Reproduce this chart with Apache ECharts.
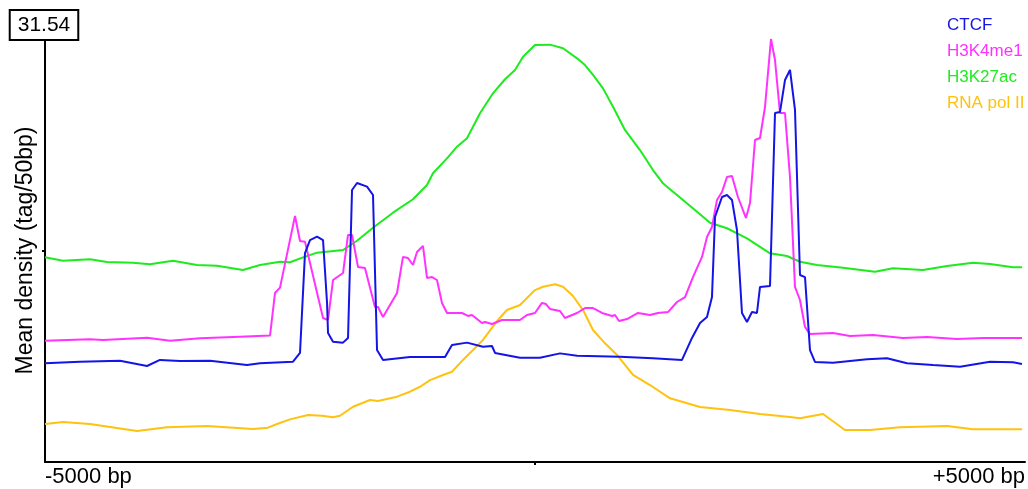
<!DOCTYPE html>
<html>
<head>
<meta charset="utf-8">
<title>Mean density</title>
<script src="https://cdn.jsdelivr.net/npm/echarts@6/dist/echarts.min.js"></script>
<style>
  html, body { margin: 0; padding: 0; background: #fff; }
  #chart { width: 1028px; height: 489px; }
</style>
</head>
<body>
<div id="chart"></div>
<script>
  // position relative to center (bp), mean density (tag/50bp)
  var yMax = 31.54;
  var xTicks = [-5000, 0, 5000];
  var seriesNames = ['CTCF', 'H3K4me1', 'H3K27ac', 'RNA pol II'];
  var seriesColors = ['#1414e6', '#ff33ff', '#1eeb1e', '#ffc20e'];

  var ctcf = [
    [-5000, 7.36], [-4643, 7.48], [-4235, 7.55], [-3959, 7.16], [-3827, 7.61], [-3622, 7.53],
    [-3316, 7.55], [-2939, 7.23], [-2806, 7.36], [-2469, 7.48], [-2398, 8.13], [-2347, 15.58],
    [-2296, 16.55], [-2224, 16.80], [-2163, 16.55], [-2122, 11.86], [-2112, 9.62], [-2061, 8.97],
    [-1959, 8.90], [-1908, 9.25], [-1867, 20.28], [-1816, 20.80], [-1714, 20.53], [-1653, 19.91],
    [-1612, 8.35], [-1551, 7.61], [-1276, 7.83], [-918, 7.83], [-847, 8.72], [-694, 8.90],
    [-531, 8.60], [-439, 8.65], [-408, 8.13], [-153, 7.78], [51, 7.78], [255, 8.10],
    [429, 7.93], [867, 7.85], [1204, 7.73], [1500, 7.61], [1602, 9.25], [1684, 10.36],
    [1755, 10.81], [1806, 12.30], [1837, 18.27], [1908, 19.76], [1959, 19.91], [2010, 19.54],
    [2061, 17.30], [2112, 11.11], [2163, 10.44], [2214, 11.18], [2265, 11.11], [2296, 13.05],
    [2398, 13.12], [2449, 26.02], [2500, 26.10], [2551, 28.48], [2602, 29.23], [2653, 26.25],
    [2704, 13.94], [2755, 13.79], [2806, 8.35], [2857, 7.46], [3041, 7.40], [3388, 7.66],
    [3592, 7.73], [3796, 7.36], [4061, 7.23], [4337, 7.11], [4643, 7.48], [4878, 7.43], [4969, 7.31]
  ];

  var h3k4me1 = [
    [-5000, 9.04], [-4541, 9.15], [-4408, 9.10], [-3959, 9.27], [-3724, 9.04], [-3418, 9.22],
    [-3010, 9.34], [-2704, 9.43], [-2653, 12.60], [-2602, 13.00], [-2449, 18.34], [-2398, 16.48],
    [-2347, 16.43], [-2163, 10.74], [-2112, 10.59], [-2061, 13.57], [-1959, 14.09], [-1908, 16.93],
    [-1867, 16.93], [-1806, 14.54], [-1735, 14.47], [-1633, 11.56], [-1602, 11.56], [-1551, 10.81],
    [-1408, 12.60], [-1347, 15.29], [-1296, 15.21], [-1245, 14.69], [-1204, 15.66], [-1143, 16.11],
    [-1102, 13.72], [-1051, 13.79], [-1000, 13.57], [-949, 11.86], [-898, 11.11], [-745, 11.11],
    [-684, 10.89], [-643, 10.96], [-541, 10.36], [-510, 10.44], [-439, 10.29], [-337, 10.59],
    [-153, 10.59], [-82, 10.96], [0, 11.11], [71, 11.86], [112, 11.78], [153, 11.41],
    [255, 11.26], [306, 10.74], [429, 11.11], [510, 11.48], [592, 11.48], [684, 11.11],
    [786, 10.89], [816, 10.96], [857, 10.51], [939, 10.66], [1051, 11.11], [1173, 10.96],
    [1255, 11.11], [1357, 11.18], [1449, 11.93], [1531, 12.30], [1612, 13.79], [1704, 15.29],
    [1755, 16.78], [1806, 17.52], [1857, 19.54], [1908, 20.13], [1959, 21.25], [2010, 21.33],
    [2071, 19.76], [2153, 18.19], [2194, 19.31], [2245, 24.01], [2296, 24.16], [2347, 26.47],
    [2408, 31.54], [2449, 29.97], [2500, 26.02], [2551, 26.02], [2602, 21.25], [2653, 13.05],
    [2704, 12.08], [2755, 10.07], [2806, 9.54], [3041, 9.62], [3214, 9.39], [3449, 9.47],
    [3755, 9.25], [4000, 9.32], [4306, 9.17], [4571, 9.25], [4969, 9.25]
  ];

  var h3k27ac = [
    [-5000, 15.26], [-4816, 15.01], [-4541, 15.11], [-4367, 14.91], [-4102, 14.86], [-3929, 14.74],
    [-3694, 15.01], [-3449, 14.69], [-3245, 14.64], [-2980, 14.32], [-2806, 14.69], [-2602, 14.93],
    [-2500, 14.89], [-2367, 15.26], [-2224, 15.61], [-1959, 15.81], [-1816, 16.50], [-1653, 17.47],
    [-1449, 18.59], [-1245, 19.59], [-1102, 20.65], [-1041, 21.53], [-898, 22.64], [-796, 23.51],
    [-694, 24.14], [-561, 26.00], [-429, 27.49], [-306, 28.54], [-204, 29.23], [-122, 30.22],
    [0, 31.09], [153, 31.12], [286, 30.85], [429, 30.10], [510, 29.60], [592, 28.86],
    [694, 27.86], [796, 26.49], [918, 24.76], [1071, 23.26], [1204, 21.77], [1306, 20.78],
    [1347, 20.53], [1510, 19.54], [1653, 18.66], [1786, 17.84], [1959, 17.43], [2163, 16.68],
    [2398, 15.56], [2571, 15.36], [2704, 14.93], [2878, 14.69], [3143, 14.49], [3469, 14.19],
    [3653, 14.44], [3959, 14.32], [4204, 14.61], [4469, 14.86], [4643, 14.76], [4878, 14.52], [4969, 14.52]
  ];

  var rnaPol2 = [
    [-5000, 2.83], [-4816, 2.98], [-4541, 2.83], [-4061, 2.31], [-3755, 2.59], [-3347, 2.68],
    [-2878, 2.46], [-2724, 2.56], [-2633, 2.83], [-2500, 3.18], [-2316, 3.50], [-2173, 3.45],
    [-2061, 3.33], [-1990, 3.45], [-1857, 4.12], [-1684, 4.62], [-1602, 4.55], [-1408, 4.87],
    [-1276, 5.24], [-1173, 5.61], [-1071, 6.11], [-939, 6.49], [-847, 6.73], [-735, 7.61],
    [-531, 9.10], [-378, 10.59], [-286, 11.33], [-153, 11.71], [0, 12.82], [82, 13.07],
    [204, 13.25], [286, 13.07], [388, 12.38], [490, 11.33], [592, 9.84], [714, 8.85],
    [837, 7.98], [1000, 6.49], [1173, 5.74], [1378, 4.75], [1684, 4.10], [1990, 3.88],
    [2296, 3.58], [2602, 3.36], [2704, 3.26], [2939, 3.58], [3163, 2.39], [3418, 2.39],
    [3724, 2.59], [4204, 2.68], [4469, 2.44], [4969, 2.44]
  ];

  var seriesData = [ctcf, h3k4me1, h3k27ac, rnaPol2];

  var myChart = echarts.init(document.getElementById('chart'));
  var fontFamily = 'Liberation Sans, Arial, sans-serif';

  var option = {
    backgroundColor: '#fff',
    animation: false,
    grid: {
      left: 45,
      right: 3,
      top: 39,
      bottom: 27,
      containLabel: false,
      outerBoundsMode: 'none'
    },
    legend: {
      orient: 'vertical',
      left: 937,
      top: 11,
      itemWidth: 0,
      itemHeight: 18,
      itemGap: 8,
      selectedMode: false,
      icon: 'rect',
      textStyle: { fontSize: 17, fontFamily: fontFamily },
      data: seriesNames.map(function (name, i) {
        return { name: name, itemStyle: { opacity: 0 }, textStyle: { color: seriesColors[i] } };
      })
    },
    xAxis: {
      type: 'value',
      min: xTicks[0],
      max: xTicks[2],
      interval: 5000,
      splitLine: { show: false },
      axisLine: { onZero: false, lineStyle: { color: '#000', width: 2 } },
      axisTick: {
        show: true,
        length: 3,
        customValues: [0],
        lineStyle: { color: '#000', width: 2 }
      },
      axisLabel: {
        margin: 4,
        fontSize: 22,
        color: '#000',
        fontFamily: fontFamily,
        alignMinLabel: 'left',
        alignMaxLabel: 'right',
        formatter: function (val) {
          if (val === 0) return '';
          return (val > 0 ? '+' : '') + val + ' bp';
        }
      }
    },
    yAxis: {
      type: 'value',
      min: 0,
      max: yMax,
      interval: yMax / 2,
      name: 'Mean density (tag/50bp)',
      nameLocation: 'middle',
      nameGap: 8,
      nameMoveOverlap: false,
      nameTextStyle: { fontSize: 23, color: '#000', fontFamily: fontFamily },
      splitLine: { show: false },
      axisLine: { show: true, onZero: false, lineStyle: { color: '#000', width: 2 } },
      axisTick: {
        show: true,
        length: 3,
        customValues: [yMax / 2],
        lineStyle: { color: '#000', width: 2 }
      },
      axisLabel: {
        showMaxLabel: true,
        margin: 1,
        align: 'center',
        verticalAlign: 'bottom',
        fontFamily: fontFamily,
        formatter: function (val) {
          return Math.abs(val - yMax) < 0.01 ? '{box|' + yMax.toFixed(2) + '}' : '';
        },
        rich: {
          box: {
            fontSize: 21,
            color: '#000',
            fontFamily: fontFamily,
            backgroundColor: '#fff',
            borderColor: '#000',
            borderWidth: 2,
            padding: [4, 7, 3, 7]
          }
        }
      }
    },
    series: seriesNames.map(function (name, i) {
      return {
        name: name,
        type: 'line',
        symbol: 'none',
        smooth: false,
        z: 10 - i,
        lineStyle: { color: seriesColors[i], width: 2 },
        itemStyle: { color: seriesColors[i] },
        data: seriesData[i]
      };
    })
  };

  myChart.setOption(option);
</script>
</body>
</html>
